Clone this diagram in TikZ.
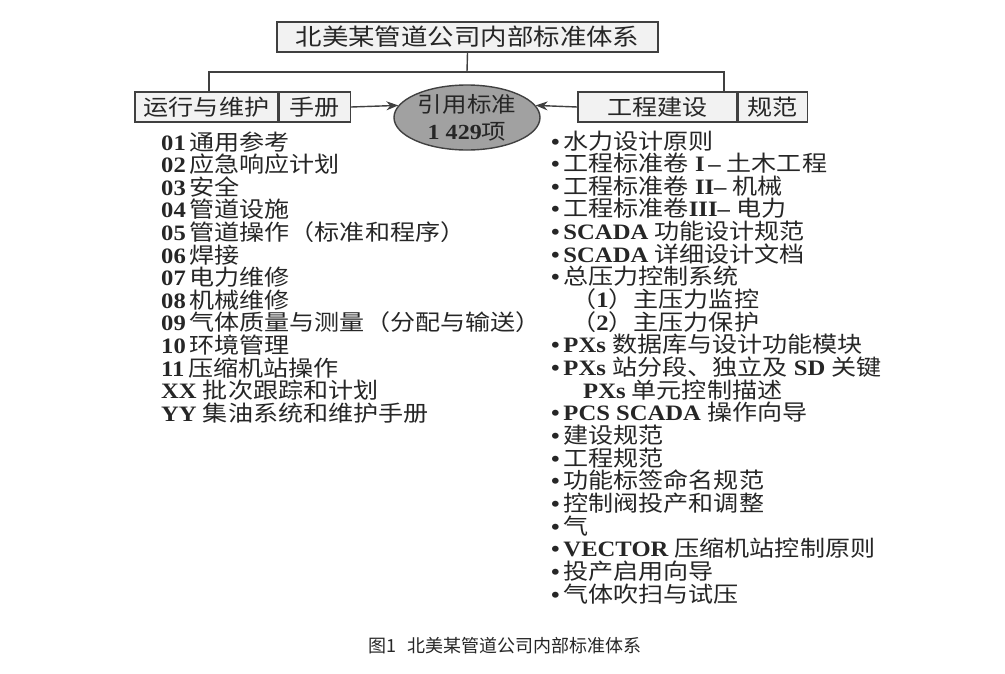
\documentclass[tikz,border=0pt]{standalone}
\usepackage{fontspec}
\usepackage{tikz}
\usetikzlibrary{positioning,shapes.geometric,arrows.meta}
\setmainfont{Liberation Serif}
\newfontfamily\cjk{Noto Sans CJK SC}[FakeStretch=1.14]
\newfontfamily\cjkplain{Noto Sans CJK SC}
\newfontfamily\enf{Liberation Serif}[FakeStretch=1.12]
\newcommand\en[1]{{\enf\bfseries #1}}
\newcommand\bul{\en{•}\,}

\begin{document}
\begin{tikzpicture}[x=1pt, y=-1pt,
  every node/.style={text=black!85},
  box/.style={draw=black!75, line width=1.4pt, fill=black!5, minimum height=30pt,
    inner sep=0pt, font=\cjk\fontsize{22}{26}\selectfont},
  item/.style={anchor=base west, inner sep=0pt, font=\cjk\fontsize{22}{26}\selectfont},
  link/.style={draw=black!75, line width=1.4pt},
  arr/.style={link, -{Stealth[length=12pt,width=9pt]}}
]
\useasboundingbox (0,0) rectangle (1005,673);

\node[box, minimum width=381pt, font=\cjk\fontsize{23.2}{28}\selectfont] (title) at (467.5,37) {北美某管道公司内部标准体系};

\node[box, minimum width=143pt] (om) at (206.5,107) {运行与维护};
\node[box, minimum width=71pt, right=0pt of om] (omb) {手册};
\node[box, minimum width=159pt] (eng) at (657.5,107) {工程建设};
\node[box, minimum width=69pt, right=0pt of eng] (engb) {规范};

\node[ellipse, draw=black!75, line width=1.4pt, fill=black!37, minimum width=146pt,
  minimum height=65pt] (std) at (467,117.5) {};
\node[align=center, inner sep=0pt, font=\cjk\fontsize{21.5}{27}\selectfont] (stdtxt) at (std.center) {引用标准\\\en{1 429}项};

% connectors
\coordinate (hub) at (467,72);
\coordinate (omtop) at (209,92);
\coordinate (engtop) at (724,92);
\draw[link] (title.south) -- (hub);
\draw[link] (omtop) |- (hub) -| (engtop);
\draw[arr] (omb.east) -- (std.170);
\draw[arr] (eng.west) -- (std.10);

% operation manuals
\foreach \t [count=\i] in {{\en{01}\,通用参考}, {\en{02}\,应急响应计划}, {\en{03}\,安全},
  {\en{04}\,管道设施}, {\en{05}\,管道操作（标准和程序）}, {\en{06}\,焊接},
  {\en{07}\,电力维修}, {\en{08}\,机械维修}, {\en{09}\,气体质量与测量（分配与输送）},
  {\en{10}\,环境管理}, {\en{11}\,压缩机站操作}, {\en{XX }批次跟踪和计划},
  {\en{YY }集油系统和维护手册}}
  \node[item] (op\i) at (161, {150+22.6*(\i-1)}) {\t};

% engineering specs
\foreach \t [count=\i] in {{\bul 水力设计原则}, {\bul 工程标准卷\en{ I\,– }土木工程},
  {\bul 工程标准卷\en{ II– }机械}, {\bul 工程标准卷\en{III– }电力},
  {\bul\en{SCADA }功能设计规范}, {\bul\en{SCADA }详细设计文档}, {\bul 总压力控制系统},
  {\hspace*{20pt}（\en{1}）主压力监控}, {\hspace*{20pt}（\en{2}）主压力保护},
  {\bul\en{PXs }数据库与设计功能模块}, {\bul\en{PXs }站分段、独立及\en{ SD }关键},
  {\hspace*{32pt}\en{PXs }单元控制描述}, {\bul\en{PCS SCADA }操作向导}, {\bul 建设规范},
  {\bul 工程规范}, {\bul 功能标签命名规范}, {\bul 控制阀投产和调整}, {\bul 气},
  {\bul\en{VECTOR }压缩机站控制原则}, {\bul 投产启用向导}, {\bul 气体吹扫与试压}}
  \node[item] (sp\i) at (551, {149+22.65*(\i-1)}) {\t};

\node[font=\cjkplain\fontsize{18}{20}\selectfont] (cap) at (505,646) {图1\hspace{12pt}北美某管道公司内部标准体系};
\end{tikzpicture}
\end{document}
